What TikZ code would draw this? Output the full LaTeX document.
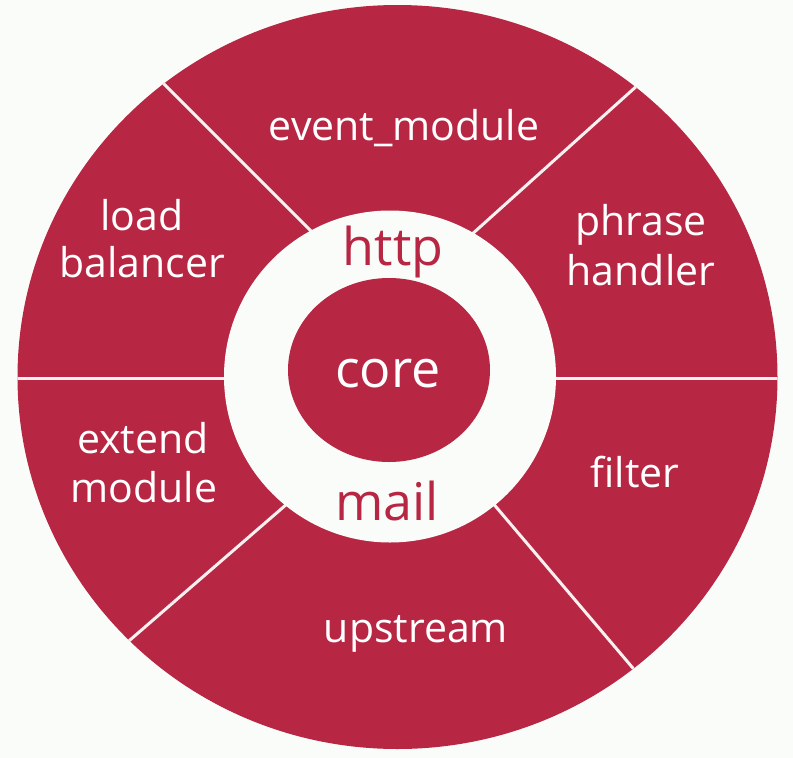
\documentclass[tikz,border=0pt]{standalone}
\usepackage{fontspec}
\setmainfont{Open Sans}
\definecolor{crim}{RGB}{183,38,67}
\definecolor{bgw}{RGB}{250,252,250}
\definecolor{linew}{RGB}{250,240,240}
\tikzset{
  outer/.style={text=white, font=\fontsize{41}{48}\selectfont, anchor=base, inner sep=0pt},
  inner/.style={text=crim, font=\fontsize{52}{60}\selectfont, anchor=base, inner sep=0pt},
  corelbl/.style={text=white, font=\fontsize{52}{60}\selectfont, anchor=base, inner sep=0pt},
  divider/.style={draw=linew, line width=3pt}
}
\begin{document}
\begin{tikzpicture}[x=1pt,y=-1pt]
\fill[bgw] (0,0) rectangle (793,758);
\useasboundingbox (0,0) rectangle (793,758);
% outer disc
\fill[crim] (397.5,377) ellipse [x radius=380, y radius=372];
\begin{scope}
\clip (397.5,377) ellipse [x radius=380, y radius=372];
\coordinate (ul1) at (130,50);  \coordinate (ul2) at (330,250);
\coordinate (ur1) at (669,57);  \coordinate (ur2) at (460,245);
\coordinate (l1) at (0,378);    \coordinate (l2) at (260,378);
\coordinate (r1) at (520,378);  \coordinate (r2) at (793,378);
\coordinate (ll1) at (310,484); \coordinate (ll2) at (100,666);
\coordinate (lr1) at (480,488); \coordinate (lr2) at (660,700);
\draw[divider] (ul1) -- (ul2);
\draw[divider] (ur1) -- (ur2);
\draw[divider] (l1) -- (l2);
\draw[divider] (r1) -- (r2);
\draw[divider] (ll1) -- (ll2);
\draw[divider] (lr1) -- (lr2);
\end{scope}
% white ring and core
\fill[bgw] (390,376.5) circle [radius=166];
\fill[crim] (389,370) ellipse [x radius=101, y radius=92];
% labels
\node[outer] (ev) at (404,140) {event\_module};
\node[outer] (lb1) at (142,230) {load};
\node[outer] (lb2) at (142,277) {balancer};
\node[outer] (ph1) at (641,235) {phrase};
\node[outer] (ph2) at (641,285) {handler};
\node[outer] (ex1) at (143,453) {extend};
\node[outer] (ex2) at (144,502) {module};
\node[outer] (fi) at (635,487) {filter};
\node[outer] (up) at (416,642) {upstream};
\node[inner] (ht) at (393,265) {http};
\node[corelbl] (co) at (388,387) {core};
\node[inner] (ma) at (387,520) {mail};
\end{tikzpicture}
\end{document}
